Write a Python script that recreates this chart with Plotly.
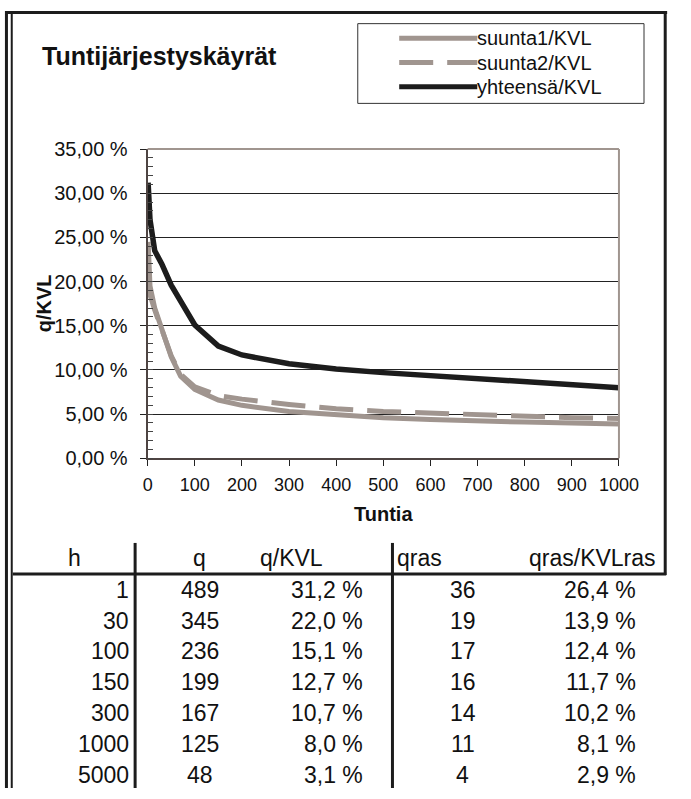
import plotly.graph_objects as go

# tuntijärjestyskäyrät (luettu kuvasta), x = tunnit, y = % KVL:stä
tunnit = [1, 5, 15, 30, 50, 70, 100, 150, 200, 300, 400, 500, 600, 700, 800, 900, 1000]
suunta1 = [24.5, 19.5, 17.0, 14.8, 11.5, 9.3, 7.8, 6.6, 6.0, 5.3, 4.95, 4.6, 4.4, 4.2, 4.1, 4.0, 3.9]
suunta2 = [19.5, 18.5, 16.8, 14.6, 11.6, 9.5, 8.1, 7.1, 6.7, 6.1, 5.6, 5.3, 5.1, 4.95, 4.77, 4.6, 4.5]
yhteensa = [31.2, 27.0, 23.5, 22.0, 19.6, 17.9, 15.1, 12.7, 11.7, 10.7, 10.1, 9.7, 9.35, 9.0, 8.7, 8.35, 8.0]
nimet = ["suunta1/KVL", "suunta2/KVL", "yhteensä/KVL"]

# taulukko
h = [1, 30, 100, 150, 300, 1000, 5000]
q = [489, 345, 236, 199, 167, 125, 48]
q_kvl = [31.2, 22.0, 15.1, 12.7, 10.7, 8.0, 3.1]
qras = [36, 19, 17, 16, 14, 11, 4]
qras_kvlras = [26.4, 13.9, 12.4, 11.7, 10.2, 8.1, 2.9]
otsikot = ["h", "q", "q/KVL", "qras", "qras/KVLras"]

W, H = 691, 799
FONT = "Liberation Sans, Arial, sans-serif"
GRAY = "#a0958f"
BLACK = "#1c1c1c"


def py(px):  # pikseli -> paper y
    return 1 - px / H


def px_(x):
    return x / W


def pct(v):
    return f"{v:.1f} %".replace(".", ",")


fig = go.Figure()
fig.add_trace(go.Scatter(x=tunnit, y=suunta1, mode="lines", name=nimet[0],
                         line=dict(color=GRAY, width=5)))
fig.add_trace(go.Scatter(x=tunnit, y=suunta2, mode="lines", name=nimet[1],
                         line=dict(color=GRAY, width=5, dash="34px,14px")))
fig.add_trace(go.Scatter(x=tunnit, y=yhteensa, mode="lines", name=nimet[2],
                         line=dict(color=BLACK, width=5.5)))

fig.update_layout(
    width=W, height=H, margin=dict(l=0, r=0, t=0, b=0),
    paper_bgcolor="white", plot_bgcolor="white",
    showlegend=False, separators=", ",
    font=dict(family=FONT, color="#111", size=18),
    xaxis=dict(domain=[px_(148), px_(637)], range=[0, 1000], tickvals=list(range(0, 1001, 100)),
               showgrid=False, zeroline=False, showline=True, linecolor="#4e4442", linewidth=2,
               ticks="outside", ticklen=6, tickcolor="#222", tickwidth=1,
               tickfont=dict(size=18), ticklabelstandoff=3),
    yaxis=dict(domain=[py(460), py(142)], range=[0, 35], dtick=5, tickformat=".2f", ticksuffix=" %",
               showgrid=True, gridcolor="#222", gridwidth=1, zeroline=False,
               showline=True, linecolor="#4e4442", linewidth=2,
               ticks="outside", ticklen=6, tickcolor="#222",
               minor=dict(dtick=1, ticks="inside", ticklen=5, tickcolor="#444", showgrid=False),
               tickfont=dict(size=20), ticklabelstandoff=8),
)

shapes = []
# kuvaajan ylä- ja oikea reuna
shapes.append(dict(type="line", xref="x domain", yref="y domain", x0=0, x1=1, y0=1, y1=1,
                   line=dict(color=GRAY, width=2)))
shapes.append(dict(type="line", xref="x domain", yref="y domain", x0=1, x1=1, y0=0, y1=1,
                   line=dict(color=GRAY, width=2)))

# ulkokehys
shapes.append(dict(type="line", xref="paper", yref="paper", x0=px_(1.5), x1=px_(1.5), y0=0, y1=1,
                   line=dict(color=BLACK, width=3)))
shapes.append(dict(type="line", xref="paper", yref="paper", x0=px_(7), x1=px_(7), y0=0, y1=1,
                   line=dict(color=BLACK, width=2)))
shapes.append(dict(type="line", xref="paper", yref="paper", x0=0, x1=px_(687), y0=py(1.5), y1=py(1.5),
                   line=dict(color=BLACK, width=3)))
shapes.append(dict(type="line", xref="paper", yref="paper", x0=px_(685), x1=px_(685), y0=py(0), y1=py(580),
                   line=dict(color=BLACK, width=3)))

# selite
lx0, lx1, ly0, ly1 = 366, 663, 13, 95
shapes.append(dict(type="rect", xref="paper", yref="paper", x0=px_(lx0), x1=px_(lx1), y0=py(ly1), y1=py(ly0),
                   line=dict(color="#333", width=1), fillcolor="white"))
selite_tyyli = [dict(color=GRAY, width=5), dict(color=GRAY, width=5, dash="34px,14px"),
                dict(color=BLACK, width=5)]
annotations = []
for i, nimi in enumerate(nimet):
    yy = 28 + i * 25
    shapes.append(dict(type="line", xref="paper", yref="paper", x0=px_(409), x1=px_(490),
                       y0=py(yy), y1=py(yy), line=selite_tyyli[i]))
    annotations.append(dict(x=px_(488), y=py(yy), xref="paper", yref="paper", text=nimi, showarrow=False,
                            xanchor="left", yanchor="middle", font=dict(size=20)))

# otsikot
annotations.append(dict(x=px_(36), y=py(46), xref="paper", yref="paper", text="<b>Tuntijärjestyskäyrät</b>",
                        showarrow=False, xanchor="left", yanchor="middle", font=dict(size=25)))
annotations.append(dict(x=px_(40), y=py(301), xref="paper", yref="paper", text="<b>q/KVL</b>",
                        showarrow=False, textangle=-90, xanchor="center", yanchor="middle",
                        font=dict(size=20)))
annotations.append(dict(x=px_(393), y=py(517), xref="paper", yref="paper", text="<b>Tuntia</b>",
                        showarrow=False, xanchor="center", yanchor="middle", font=dict(size=20)))

# taulukon viivat
for x0 in (135, 402):
    shapes.append(dict(type="line", xref="paper", yref="paper", x0=px_(x0), x1=px_(x0), y0=py(547), y1=0,
                       line=dict(color=BLACK, width=3)))
shapes.append(dict(type="line", xref="paper", yref="paper", x0=px_(8), x1=px_(686), y0=py(579), y1=py(579),
                   line=dict(color=BLACK, width=3)))

TFS = 23
# otsikkorivi
otsikko_pos = [(72, "center"), (202, "center"), (262, "left"), (405, "left"), (678, "right")]
for (xx, anc), t in zip(otsikko_pos, otsikot):
    annotations.append(dict(x=px_(xx), y=py(563), xref="paper", yref="paper", text=t, showarrow=False,
                            xanchor=anc, yanchor="middle", font=dict(size=TFS)))

for i in range(len(h)):
    yy = py(595 + i * 31.8)
    rivi = [(131, "right", str(h[i])), (202, "center", str(q[i])), (373, "right", pct(q_kvl[i])),
            (475, "center", str(qras[i])), (657, "right", pct(qras_kvlras[i]))]
    for xx, anc, t in rivi:
        annotations.append(dict(x=px_(xx), y=yy, xref="paper", yref="paper", text=t, showarrow=False,
                                xanchor=anc, yanchor="middle", font=dict(size=TFS)))

fig.update_layout(shapes=shapes, annotations=annotations)
fig.write_html("out.html", config={"displayModeBar": False},
               post_script="document.body.style.margin='0';document.body.style.overflow='hidden';")
